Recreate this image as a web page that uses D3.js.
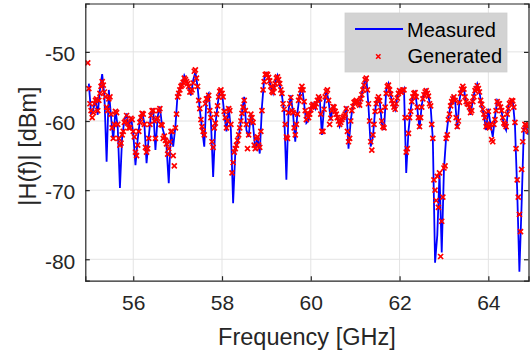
<!DOCTYPE html>
<html><head><meta charset="utf-8">
<script src="https://cdn.jsdelivr.net/npm/d3@7"></script>
<style>body{margin:0;background:#fff}svg{display:block}text{font-family:"Liberation Sans",Arial,sans-serif;fill:#262626}</style>
</head><body><svg id="c" width="530" height="355"></svg>
<script>
// Frequency grids (GHz)
const measStart = 55.00, genStart = 54.975, step = 0.05;
const xTicks = [56, 58, 60, 62, 64];
const yTicks = [-80, -70, -60, -50];
const seriesNames = ["Measured", "Generated"];
// Measured |H(f)| in dBm (grid measStart + i*step)
const measured = [
-54.6,-58.9,-58.4,-56.7,-59.1,-55.5,-53.2,-56.3,-65.9,-55.5,
-59.4,-62.7,-58.4,-60.8,-69.7,-62.3,-59.9,-58.9,-61.1,-59.4,
-61.8,-66.4,-62.7,-59.9,-58.7,-60.3,-66.1,-62.3,-58.9,-58.2,
-64.2,-59.4,-57.9,-60.8,-62.0,-63.7,-69.0,-61.3,-63.7,-60.8,
-56.0,-55.3,-54.6,-53.4,-54.1,-55.1,-56.3,-54.1,-52.9,-55.1,
-58.4,-61.1,-63.7,-56.5,-56.0,-59.9,-68.1,-60.6,-57.7,-55.5,
-55.8,-58.9,-61.5,-57.9,-61.3,-71.9,-64.4,-63.0,-61.3,-58.7,
-56.5,-61.3,-62.3,-58.9,-60.6,-64.2,-62.3,-64.7,-57.9,-53.9,
-53.1,-53.6,-55.1,-56.0,-54.3,-53.4,-54.8,-56.3,-58.7,-68.5,
-58.4,-56.3,-58.9,-63.0,-58.7,-56.3,-54.8,-57.5,-60.3,-59.9,
-58.2,-57.5,-58.2,-56.7,-56.5,-62.0,-57.9,-55.5,-57.0,-59.9,
-57.7,-58.7,-59.6,-60.8,-59.9,-59.4,-57.9,-64.0,-59.9,-57.7,
-57.0,-57.1,-57.8,-56.0,-54.6,-53.6,-57.9,-63.7,-62.3,-58.4,
-56.7,-57.0,-60.3,-61.3,-55.5,-54.6,-56.3,-57.7,-58.4,-56.5,
-55.5,-55.8,-55.3,-67.5,-61.5,-58.4,-56.3,-55.8,-58.2,-61.1,
-57.7,-56.0,-55.5,-56.5,-57.9,-62.7,-80.5,-76.5,-67.5,-79.0,
-67.0,-62.3,-59.6,-57.7,-56.5,-57.0,-61.1,-57.0,-55.1,-55.3,
-57.5,-57.7,-59.1,-57.0,-55.5,-54.6,-55.8,-57.9,-59.1,-61.3,
-58.2,-60.6,-62.3,-59.4,-57.0,-57.5,-58.7,-60.6,-61.3,-57.9,
-57.1,-57.0,-60.6,-70.0,-81.8,-72.0,-61.1,-60.6,-62.0
];
// Generated |H(f)| in dBm, grid genStart + j*step
const generated = [
-51.6,-57.5,-59.5,-57.5,-56.8,-57.0,-55.0,-54.8,-56.5,-58.5,
-56.5,-61.0,-60.5,-58.8,-62.5,-63.2,-61.5,-60.0,-60.3,-61.0,
-59.8,-62.3,-65.0,-61.5,-59.5,-59.0,-63.8,-64.0,-60.5,-58.5,
-60.0,-59.8,-58.5,-60.5,-62.5,-62.8,-64.8,-63.0,-61.5,-66.5,
-59.0,-56.0,-55.0,-54.4,-54.0,-54.6,-55.8,-55.5,-52.8,-53.8,
-57.0,-59.8,-61.5,-57.5,-56.8,-58.5,-63.0,-61.0,-59.0,-56.5,
-55.5,-56.5,-59.5,-60.0,-58.5,-67.5,-64.5,-63.5,-62.0,-60.0,
-58.0,-58.5,-64.0,-60.0,-59.5,-63.5,-62.5,-63.5,-61.5,-55.5,
-53.3,-53.3,-54.2,-55.7,-55.2,-53.8,-54.0,-55.5,-57.5,-60.5,
-62.5,-57.5,-58.5,-61.0,-60.5,-57.0,-55.5,-55.5,-58.5,-59.0,
-59.0,-57.8,-57.8,-57.5,-56.5,-59.0,-61.5,-56.5,-55.5,-60.5,
-58.5,-58.0,-59.0,-60.0,-60.2,-59.5,-59.0,-61.5,-62.5,-58.5,
-57.3,-57.0,-57.5,-56.8,-55.5,-54.0,-55.5,-60.0,-64.2,-60.5,
-57.5,-56.5,-58.5,-60.8,-58.0,-55.0,-55.5,-57.0,-58.0,-57.5,
-56.0,-55.8,-55.5,-59.5,-64.0,-59.5,-57.2,-56.0,-56.5,-59.5,
-59.5,-56.8,-55.8,-56.0,-57.5,-60.5,-68.5,-71.5,-72.5,-79.6,
-71.0,-66.5,-62.0,-59.0,-57.2,-56.5,-59.5,-60.0,-56.0,-55.0,
-56.5,-57.5,-58.0,-58.5,-56.5,-55.3,-55.3,-57.0,-58.3,-59.5,
-60.5,-61.0,-62.7,-60.5,-58.5,-57.5,-58.0,-59.5,-60.5,-59.0,
-57.5,-57.0,-58.0,-64.0,-71.0,-76.0,-63.0,-60.5,-60.8
];
// Generated |H(f)| in dBm, second set on the measured grid
const generatedB = [
-55.3,-58.5,-58.8,-57.0,-58.5,-56.0,-54.3,-55.8,-58.0,-56.8,
-59.0,-62.5,-58.6,-60.5,-63.5,-62.0,-60.2,-59.2,-61.0,-59.6,
-61.5,-64.5,-63.5,-60.2,-58.9,-60.5,-64.5,-62.5,-59.2,-58.5,
-62.5,-59.6,-58.2,-60.6,-62.2,-63.3,-64.0,-61.5,-65.0,-61.0,
-56.5,-55.5,-54.8,-53.8,-54.3,-55.0,-55.8,-54.5,-52.6,-55.0,
-58.2,-60.8,-62.0,-56.8,-56.3,-59.5,-63.8,-60.3,-57.8,-55.7,
-56.0,-58.6,-61.0,-58.2,-60.5,-66.0,-64.0,-62.8,-61.0,-58.9,
-57.0,-60.5,-62.0,-59.0,-60.2,-64.0,-62.3,-63.8,-58.5,-54.3,
-53.2,-53.7,-55.0,-55.9,-54.6,-53.6,-54.6,-56.0,-58.3,-62.3,
-58.8,-56.6,-58.8,-62.0,-59.0,-56.5,-55.0,-57.2,-59.8,-59.5,
-58.4,-57.6,-58.0,-57.0,-56.8,-61.5,-58.3,-55.7,-57.0,-59.6,
-57.9,-58.6,-59.5,-60.5,-59.8,-59.3,-58.2,-63.0,-60.0,-57.9,
-57.2,-57.2,-57.7,-56.2,-54.8,-53.8,-57.5,-63.0,-62.0,-58.6,
-56.9,-57.1,-60.0,-61.0,-56.0,-54.8,-56.1,-57.5,-58.3,-56.7,
-55.6,-55.8,-55.5,-64.5,-61.8,-58.6,-56.5,-55.9,-58.0,-60.8,
-58.0,-56.2,-55.6,-56.4,-57.8,-62.5,-70.0,-68.0,-67.5,-74.5,
-66.8,-62.5,-59.8,-57.8,-56.8,-57.0,-60.8,-57.3,-55.4,-55.4,
-57.2,-57.6,-58.8,-57.2,-55.6,-54.9,-55.8,-57.6,-59.0,-60.8,
-58.6,-60.5,-63.0,-59.8,-57.2,-57.5,-58.5,-60.3,-60.8,-58.2,
-57.3,-57.1,-60.2,-68.5,-73.5,-67.0,-61.3,-60.6,-61.5
];
const measFreq = measured.map((_, i) => measStart + i * step);
const genFreq = generated.map((_, i) => genStart + i * step);
const genPts = generated.map((v, j) => [genFreq[j], v])
  .concat(generatedB.map((v, i) => [measFreq[i], v]));

const svg = d3.select("#c");
const L = 85.3, R = 528.5, T = 3.5, B = 280.7;
const x = d3.scaleLinear().domain([54.92, 64.905]).range([L, R]);
const y = d3.scaleLinear().domain([-83.1, -43.0]).range([B, T]);
const axisCol = "#262626";

// grid
svg.append("g").selectAll("line").data(xTicks).join("line")
  .attr("x1", d => x(d)).attr("x2", d => x(d)).attr("y1", T).attr("y2", B)
  .attr("stroke", "#e3e3e3").attr("stroke-width", 1);
svg.append("g").selectAll("line").data(yTicks).join("line")
  .attr("x1", L).attr("x2", R).attr("y1", d => y(d)).attr("y2", d => y(d))
  .attr("stroke", "#e3e3e3").attr("stroke-width", 1);

svg.append("defs").append("clipPath").attr("id", "clip")
  .append("rect").attr("x", L).attr("y", T).attr("width", R - L).attr("height", B - T);

const plot = svg.append("g").attr("clip-path", "url(#clip)");
plot.append("path").datum(measured)
  .attr("d", d3.line().x((d, i) => x(measFreq[i])).y(d => y(d)))
  .attr("fill", "none").attr("stroke", "#0000ff").attr("stroke-width", 1.8);

const ms = 2.5;
const mk = plot.append("g").attr("stroke", "#ff0000").attr("stroke-width", 1.7);
mk.selectAll("path").data(genPts).join("path")
  .attr("d", d => {
    const cx = x(d[0]), cy = y(d[1]);
    return `M${cx-ms},${cy-ms}L${cx+ms},${cy+ms}M${cx-ms},${cy+ms}L${cx+ms},${cy-ms}`;
  });

// axes box
const tl = 4.5;
const axes = svg.append("g");
const bottomAxis = d3.axisBottom(x).tickValues(xTicks).tickSize(-tl).tickPadding(14).tickFormat(d3.format("d"));
const leftAxis = d3.axisLeft(y).tickValues(yTicks).tickSize(-tl).tickPadding(10).tickFormat(d => String(d));
const topAxis = d3.axisTop(x).tickValues(xTicks).tickSize(-tl).tickFormat("");
const rightAxis = d3.axisRight(y).tickValues(yTicks).tickSize(-tl).tickFormat("");
const gb = axes.append("g").attr("transform", `translate(0,${B})`).call(bottomAxis);
const gl = axes.append("g").attr("transform", `translate(${L},0)`).call(leftAxis);
const gt = axes.append("g").attr("transform", `translate(0,${T})`).call(topAxis);
const gr = axes.append("g").attr("transform", `translate(${R},0)`).call(rightAxis);
[gb, gl, gt, gr].forEach(g => {
  g.select(".domain").attr("stroke", axisCol).attr("stroke-width", 1.2);
  g.selectAll(".tick line").attr("stroke", axisCol).attr("stroke-width", 1.2);
  g.selectAll(".tick text").attr("fill", axisCol).style("font-size", "21px").style("font-family", "Liberation Sans, Arial, sans-serif");
});
gl.selectAll(".tick text").attr("dy", "0.42em");
gb.selectAll(".tick text").attr("dy", "0.71em");

svg.append("text").attr("x", (L + R) / 2).attr("y", 345).attr("text-anchor", "middle")
  .style("font-size", "23.5px").text("Frequency [GHz]");
svg.append("text").attr("transform", `translate(36,146) rotate(-90)`).attr("text-anchor", "middle")
  .style("font-size", "23.5px").text("|H(f)| [dBm]");

// legend
const lg = svg.append("g");
lg.append("rect").attr("x", 345).attr("y", 13).attr("width", 162).attr("height", 59)
  .attr("fill", "#d3d3d3").attr("stroke", "#cfcfcf").attr("stroke-width", 0.8);
lg.append("line").attr("x1", 355).attr("x2", 403).attr("y1", 29).attr("y2", 29)
  .attr("stroke", "#0000ff").attr("stroke-width", 1.8);
const lm = 2.2;
lg.append("path").attr("d", `M${378.3-lm},${56.5-lm}L${378.3+lm},${56.5+lm}M${378.3-lm},${56.5+lm}L${378.3+lm},${56.5-lm}`)
  .attr("stroke", "#ff0000").attr("stroke-width", 1.6);
lg.append("text").attr("x", 407).attr("y", 36.5).style("font-size", "20px").style("fill", "#000").text(seriesNames[0]);
lg.append("text").attr("x", 407.5).attr("y", 63.3).style("font-size", "20px").style("fill", "#000").text(seriesNames[1]);
</script></body></html>
